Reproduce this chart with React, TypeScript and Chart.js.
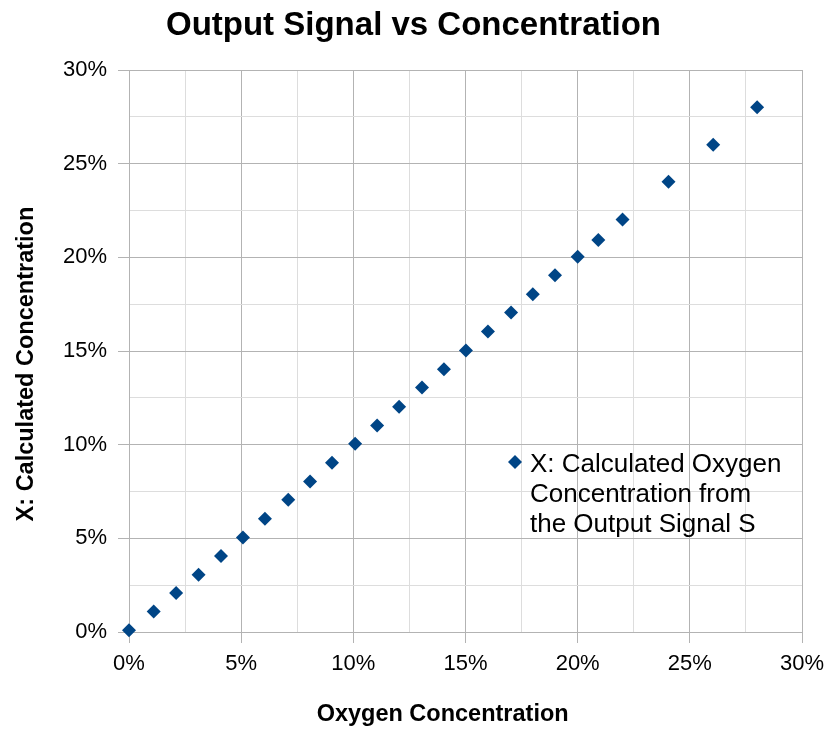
import React, { useEffect, useRef } from 'react';
import { Chart, registerables } from 'chart.js';

Chart.register(...registerables);

// ---- Data ----
const OXYGEN_CONCENTRATION = [0, 1.1, 2.1, 3.1, 4.1, 5.08, 6.06, 7.1, 8.07, 9.05, 10.08, 11.06, 12.04, 13.06, 14.04, 15.02, 16.0, 17.03, 18.0, 18.99, 20.0, 20.92, 22.0, 24.05, 26.04, 28.0];
const CALCULATED_CONCENTRATION = [0.1, 1.1, 2.08, 3.06, 4.06, 5.04, 6.04, 7.06, 8.03, 9.04, 10.05, 11.02, 12.03, 13.05, 14.02, 15.03, 16.04, 17.06, 18.03, 19.04, 20.03, 20.92, 22.02, 24.03, 26.01, 28.01];
const MAJOR_TICKS = [0, 5, 10, 15, 20, 25, 30];
const SERIES_LABEL = 'X: Calculated Oxygen Concentration from the Output Signal S';
const TITLE = 'Output Signal vs Concentration';
const X_TITLE = 'Oxygen Concentration';
const Y_TITLE = 'X: Calculated Concentration';

const SERIES_COLOR = '#004586';
const MAJOR_GRID = '#b3b3b3';
const MINOR_GRID = '#dddddd';
const FONT = "'Liberation Sans', Arial, sans-serif";

const isMajor = (v: number) => MAJOR_TICKS.some((m) => Math.abs(m - v) < 1e-6);

const insideLegend = {
  id: 'insideLegend',
  afterDraw(chart: any, _args: any, opts: any) {
    const { ctx, chartArea } = chart;
    const ds = chart.data.datasets[0];
    const mx = chartArea.left + opts.dx;
    const my = chartArea.top + opts.dy;
    ctx.save();
    const r = opts.markerRadius;
    ctx.fillStyle = ds.backgroundColor;
    ctx.beginPath();
    ctx.moveTo(mx, my - r);
    ctx.lineTo(mx + r, my);
    ctx.lineTo(mx, my + r);
    ctx.lineTo(mx - r, my);
    ctx.closePath();
    ctx.fill();
    ctx.font = `${opts.fontSize}px ${FONT}`;
    ctx.fillStyle = '#000';
    ctx.textAlign = 'left';
    ctx.textBaseline = 'alphabetic';
    const words = String(ds.label).split(' ');
    const lines: string[] = [];
    let cur = '';
    for (const w of words) {
      const t = cur ? cur + ' ' + w : w;
      if (ctx.measureText(t).width > opts.maxWidth && cur) {
        lines.push(cur);
        cur = w;
      } else cur = t;
    }
    if (cur) lines.push(cur);
    lines.forEach((l, i) => {
      ctx.fillText(l, mx + opts.textGap, my + opts.baselineOffset + i * opts.lineHeight);
    });
    ctx.restore();
  },
};

export default function App() {
  const ref = useRef<HTMLCanvasElement | null>(null);

  useEffect(() => {
    if (!ref.current) return;
    const points = OXYGEN_CONCENTRATION.map((x, i) => ({ x, y: CALCULATED_CONCENTRATION[i] }));
    const gridColor = (c: any) => (c.tick && isMajor(c.tick.value) ? MAJOR_GRID : MINOR_GRID);
    const tickColor = (c: any) => (c.tick && isMajor(c.tick.value) ? MAJOR_GRID : 'rgba(0,0,0,0)');
    const chart = new Chart(ref.current, {
      type: 'scatter',
      data: {
        datasets: [
          {
            label: SERIES_LABEL,
            data: points,
            backgroundColor: SERIES_COLOR,
            borderColor: SERIES_COLOR,
            borderWidth: 0,
            pointStyle: 'rectRot',
            pointRadius: 7,
            pointHoverRadius: 7,
            clip: false,
          } as any,
        ],
      },
      options: {
        responsive: false,
        animation: false,
        layout: { padding: { left: 0, right: 0, top: 0, bottom: 0 } },
        plugins: {
          legend: { display: false },
          tooltip: { enabled: false },
          title: {
            display: true,
            text: TITLE,
            color: '#000',
            font: { family: FONT, size: 33, weight: 'bold', lineHeight: 1.2 },
            padding: { top: 6, bottom: 24.4 },
          },
          insideLegend: {
            dx: 386,
            dy: 392,
            markerRadius: 7,
            textGap: 15,
            fontSize: 26,
            lineHeight: 30,
            baselineOffset: 10,
            maxWidth: 258,
          },
        } as any,
        scales: {
          x: {
            type: 'linear',
            min: 0,
            max: 30,
            afterFit: (s: any) => {
              s.height = 97;
              s.paddingRight = 25;
            },
            ticks: {
              stepSize: 2.5,
              autoSkip: false,
              maxRotation: 0,
              color: '#000',
              padding: 8,
              font: { family: FONT, size: 22 },
              callback: (v: any) => (isMajor(Number(v)) ? `${v}%` : ''),
            },
            grid: { color: gridColor, tickColor, tickLength: 11, lineWidth: 1 },
            border: { color: MAJOR_GRID },
            title: {
              display: true,
              text: X_TITLE + '\u00a0'.repeat(7),
              color: '#000',
              font: { family: FONT, size: 23.5, weight: 'bold', lineHeight: 1.2 },
              padding: { top: 0, bottom: 0 },
            },
          },
          y: {
            type: 'linear',
            min: 0,
            max: 30,
            afterFit: (s: any) => {
              s.width = 129;
            },
            ticks: {
              stepSize: 2.5,
              autoSkip: false,
              color: '#000',
              padding: 11,
              font: { family: FONT, size: 22 },
              callback: (v: any) => (isMajor(Number(v)) ? `${v}%` : ''),
            },
            grid: { color: gridColor, tickColor, tickLength: 11, lineWidth: 1 },
            border: { color: MAJOR_GRID },
            title: {
              display: true,
              text: Y_TITLE + '\u00a0'.repeat(4),
              color: '#000',
              font: { family: FONT, size: 23.5, weight: 'bold', lineHeight: 1.2 },
              padding: { top: 12, bottom: 0 },
            },
          },
        },
      } as any,
      plugins: [insideLegend as any],
    });
    return () => chart.destroy();
  }, []);

  return (
    <div style={{ position: 'absolute', left: 0, top: 0, width: 827, height: 729, background: '#fff' }}>
      <canvas ref={ref} width={827} height={729} style={{ display: 'block' }} />
    </div>
  );
}
